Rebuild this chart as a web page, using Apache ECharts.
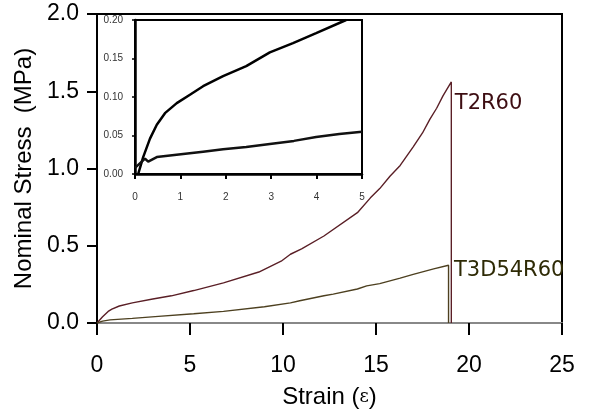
<!DOCTYPE html>
<html>
<head>
<meta charset="utf-8">
<script src="https://cdn.jsdelivr.net/npm/echarts@6/dist/echarts.min.js"></script>
<style>
  html, body { margin: 0; padding: 0; background: #fff; }
  #chart { width: 590px; height: 414px; }
</style>
</head>
<body>
<div id="chart"></div>
<script>
  // main curves: strain / nominal stress (MPa)
  let t2Strain = [0, 0.3, 0.6, 0.8, 1.2, 1.9, 3.0, 4.0, 5.2, 6.8, 8.7, 9.9, 10.4, 11.0, 12.2, 14.0, 14.7, 15.2, 15.75, 16.3, 16.65, 17.0, 17.5, 17.9, 18.26, 18.6, 18.8, 19.05, 19.05];
  let t2Stress = [0, 0.04, 0.075, 0.09, 0.11, 0.13, 0.155, 0.176, 0.21, 0.26, 0.33, 0.40, 0.445, 0.48, 0.563, 0.714, 0.81, 0.87, 0.95, 1.02, 1.08, 1.14, 1.23, 1.32, 1.39, 1.47, 1.51, 1.56, 0];

  let t3Strain = [0, 0.3, 0.7, 1.9, 3.3, 5.2, 6.8, 9.0, 10.4, 10.9, 12.2, 12.7, 14.0, 14.5, 15.2, 16.3, 17.0, 18.1, 18.9, 18.9];
  let t3Stress = [0, 0.012, 0.02, 0.03, 0.043, 0.06, 0.075, 0.105, 0.13, 0.144, 0.176, 0.187, 0.22, 0.24, 0.255, 0.29, 0.315, 0.35, 0.374, 0];

  // inset (first 5 strain units)
  let insetUpperStrain = [0.07, 0.12, 0.18, 0.33, 0.48, 0.66, 0.92, 1.21, 1.5, 1.94, 2.45, 2.97, 3.48, 3.99, 4.65];
  let insetUpperStress = [0, 0.01, 0.022, 0.046, 0.064, 0.079, 0.092, 0.103, 0.114, 0.127, 0.14, 0.158, 0.17, 0.183, 0.2];
  let insetLowerStrain = [0, 0.22, 0.29, 0.48, 1.06, 1.5, 1.94, 2.45, 2.97, 3.5, 3.99, 4.5, 5.0];
  let insetLowerStress = [0.008, 0.02, 0.016, 0.022, 0.026, 0.029, 0.032, 0.035, 0.039, 0.043, 0.048, 0.052, 0.055];

  let xTicks = [0, 25, 5];      // min, max, interval
  let yTicks = [0, 2, 0.5];
  let insetXTicks = [0, 5, 1];
  let insetYTicks = [0, 0.2, 0.05];

  let pairs = (xs, ys) => xs.map((x, i) => [x, ys[i]]);

  let chart = echarts.init(document.getElementById('chart'));

  let t2Data = pairs(t2Strain, t2Stress);
  let t3Data = pairs(t3Strain, t3Stress);

  // curve name written just right of the peak before the drop
  let peakLabel = (point, text, color, offset) => ({
    symbol: 'none',
    data: [{
      coord: point, symbol: 'circle', symbolSize: 1, itemStyle: {color: 'rgba(0,0,0,0)'},
      label: {
        show: true, formatter: text, position: 'right', distance: 3, offset: offset,
        color: color, fontFamily: 'DejaVu Sans', fontSize: 21
      }
    }]
  });

  let font = 'Liberation Sans';

  let option = {
    animation: false,
    backgroundColor: '#fff',
    grid: [
      {left: 97, right: 28, top: 14, bottom: 90, show: true, borderColor: '#000', borderWidth: 2},
      {left: 135, right: 228, top: 20, bottom: 240, show: true, borderColor: '#000', borderWidth: 2, backgroundColor: '#fff'}
    ],
    xAxis: [
      {
        gridIndex: 0, type: 'value', min: xTicks[0], max: xTicks[1], interval: xTicks[2],
        name: 'Strain {e|(}{g|ε}{e|)}', nameLocation: 'middle', nameGap: 62,
        nameTextStyle: {
          color: '#000', fontFamily: font, fontSize: 24,
          rich: {e: {fontFamily: font, fontSize: 24, color: '#000'}, g: {fontFamily: 'DejaVu Serif', fontSize: 18, color: '#000'}}
        },
        axisLine: {lineStyle: {color: '#888', width: 2}},
        axisTick: {length: 12, lineStyle: {color: '#000', width: 2}},
        axisLabel: {margin: 31, color: '#000', fontFamily: font, fontSize: 23},
        splitLine: {show: false}
      },
      {
        gridIndex: 1, type: 'value', min: insetXTicks[0], max: insetXTicks[1], interval: insetXTicks[2],
        axisLine: {lineStyle: {color: '#000', width: 2.5}},
        axisTick: {length: 5, lineStyle: {color: '#000', width: 2}},
        axisLabel: {margin: 18, color: '#333', fontFamily: font, fontSize: 10},
        splitLine: {show: false}
      }
    ],
    yAxis: [
      {
        gridIndex: 0, type: 'value', min: yTicks[0], max: yTicks[1], interval: yTicks[2],
        name: 'Nominal Stress  (MPa)', nameLocation: 'middle', nameGap: 54,
        nameTextStyle: {color: '#000', fontFamily: font, fontSize: 24},
        axisLine: {lineStyle: {color: '#000', width: 2}},
        axisTick: {length: 10, lineStyle: {color: '#000', width: 2}},
        axisLabel: {margin: 18, color: '#000', fontFamily: font, fontSize: 23, padding: [5, 0, 0, 0], formatter: v => v.toFixed(1)},
        splitLine: {show: false}
      },
      {
        gridIndex: 1, type: 'value', min: insetYTicks[0], max: insetYTicks[1], interval: insetYTicks[2],
        axisLine: {lineStyle: {color: '#000', width: 2.5}},
        axisTick: {length: 3, lineStyle: {color: '#000', width: 1.5}},
        axisLabel: {margin: 12, color: '#333', fontFamily: font, fontSize: 10, formatter: v => v.toFixed(2)},
        splitLine: {show: false}
      }
    ],
    series: [
      {
        name: 'T2R60', type: 'line', xAxisIndex: 0, yAxisIndex: 0, data: t2Data,
        symbol: 'none', lineStyle: {color: '#5a1f26', width: 1.4},
        markPoint: peakLabel(t2Data[t2Data.length - 2], 'T2R60', '#3d0d12', [0, 22])
      },
      {
        name: 'T3D54R60', type: 'line', xAxisIndex: 0, yAxisIndex: 0, data: t3Data,
        symbol: 'none', lineStyle: {color: '#4d4020', width: 1.4},
        markPoint: peakLabel(t3Data[t3Data.length - 2], 'T3D54R60', '#2e2a05', [2, 5])
      },
      {
        type: 'line', xAxisIndex: 1, yAxisIndex: 1, data: pairs(insetUpperStrain, insetUpperStress),
        symbol: 'none', lineStyle: {color: '#000', width: 2.5}
      },
      {
        type: 'line', xAxisIndex: 1, yAxisIndex: 1, data: pairs(insetLowerStrain, insetLowerStress),
        symbol: 'none', lineStyle: {color: '#111', width: 2.5}
      }
    ]
  };
  chart.setOption(option);
</script>
</body>
</html>
